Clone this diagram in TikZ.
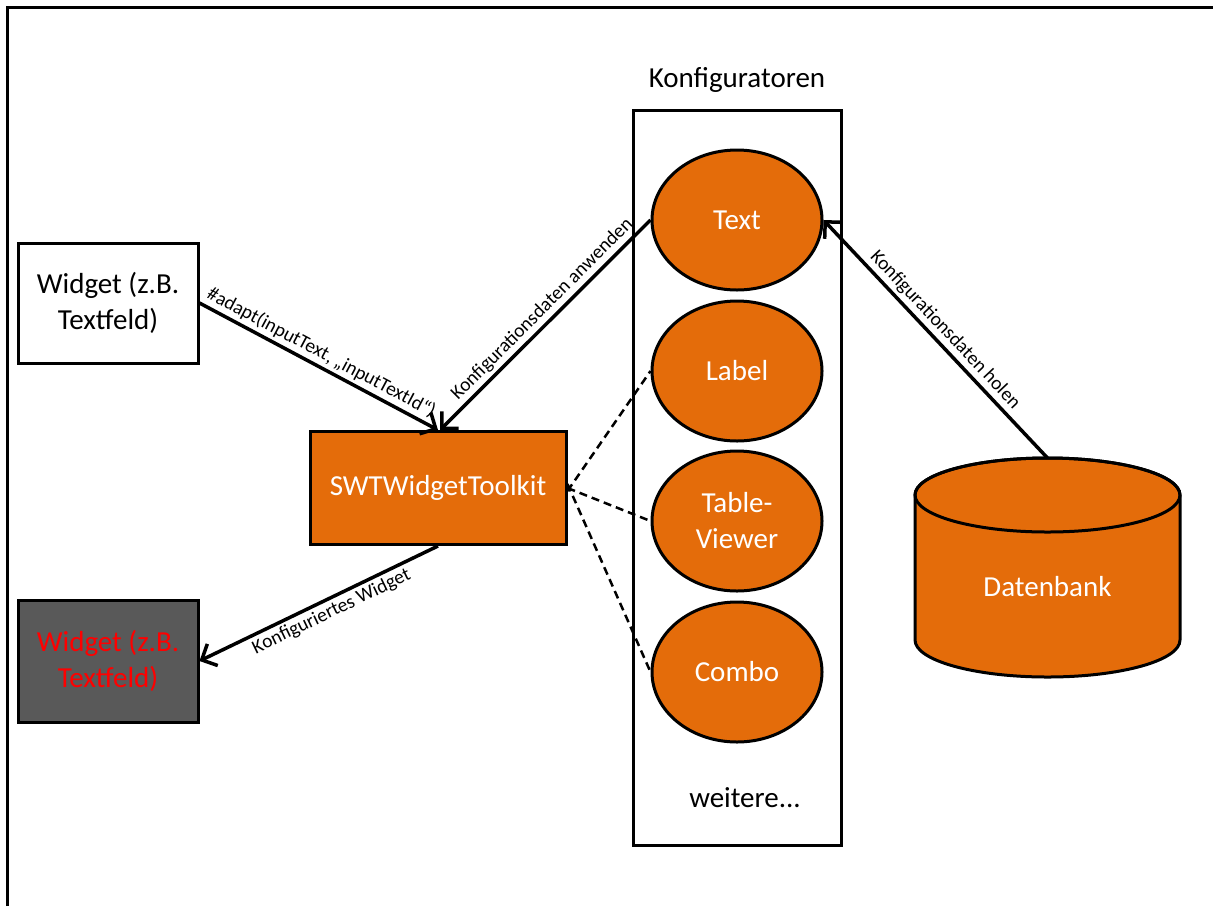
\documentclass[tikz,border=0pt]{standalone}
\usepackage{fontspec}
\setmainfont{Carlito}
\usetikzlibrary{arrows.meta,shapes.geometric}
\definecolor{orng}{HTML}{E46C0A}
\definecolor{dgrey}{HTML}{595959}
\begin{document}
\begin{tikzpicture}[x=1pt,y=-1pt,
  every node/.style={font=\fontsize{29}{36}\selectfont, align=center},
  box/.style={draw, line width=3pt, rectangle, inner sep=0pt},
  conf/.style={draw, line width=3pt, ellipse, fill=orng, text=white, minimum width=170pt, minimum height=140pt, inner sep=0pt},
  arr/.style={line width=3.5pt, -{Straight Barb[length=12pt,width=24pt,line width=3.5pt]}},
  dsh/.style={line width=2.5pt, dash pattern=on 8pt off 5pt},
  lbl/.style={font=\fontsize{19.5}{23}\selectfont, sloped, inner sep=3pt}]
\useasboundingbox (0,0) rectangle (1213,906);
\draw[line width=3pt] (7,906) -- (7,7) -- (1213,7);

\node[box, fill=white, minimum width=180pt, minimum height=120pt] (w1) at (108,303) {Widget (z.B.\\Textfeld)};
\node[box, fill=dgrey, text=red, minimum width=180pt, minimum height=122pt] (w2) at (108,661) {Widget (z.B.\\Textfeld)};
\node[box, fill=orng, text=white, minimum width=256pt, minimum height=113pt] (swt) at (438,488) {SWTWidgetToolkit};

\node[box, minimum width=208pt, minimum height=735pt] (kc) at (737,477.5) {};
\node (kt) at (737,80) {Konfiguratoren};
\node[conf] (ctext) at (737,220) {Text};
\node[conf] (clabel) at (737,371) {Label};
\node[conf] (ctable) at (737,521) {Table-\\Viewer};
\node[conf] (ccombo) at (737,672) {Combo};
\node (more) at (745,798) {weitere{}.{}.{}.};

% Datenbank cylinder
\filldraw[fill=orng, line width=3pt] (915,495) -- (915,640) arc[start angle=180, end angle=0, x radius=132.5, y radius=37] -- (1180,495) arc[start angle=0, end angle=-180, x radius=132.5, y radius=37] -- cycle;
\draw[line width=3pt] (1047.5,495) ellipse[x radius=132.5, y radius=37];
\node[text=white] (db) at (1047.5,587) {Datenbank};
\coordinate (dbtop) at (1047.5,458);

\draw[arr] (w1.east) -- node[lbl, above, pos=0.485] {\#adapt(inputText, „inputTextId“)} (swt.north);
\draw[arr] (ctext.west) -- node[lbl, above, pos=0.47] {Konfigurationsdaten anwenden} ([xshift=2pt]swt.north);
\draw[arr] (dbtop) -- node[lbl, above, pos=0.5] {Konfigurationsdaten holen} (ctext.east);
\draw[arr] (swt.south) -- node[lbl, below, pos=0.47] {Konfiguriertes Widget} (w2.east);

\draw[dsh] ([yshift=-3pt]swt.east) -- (clabel.west);
\draw[dsh] (swt.east) -- (ctable.west);
\draw[dsh] ([yshift=4pt]swt.east) -- (ccombo.west);
\end{tikzpicture}
\end{document}
